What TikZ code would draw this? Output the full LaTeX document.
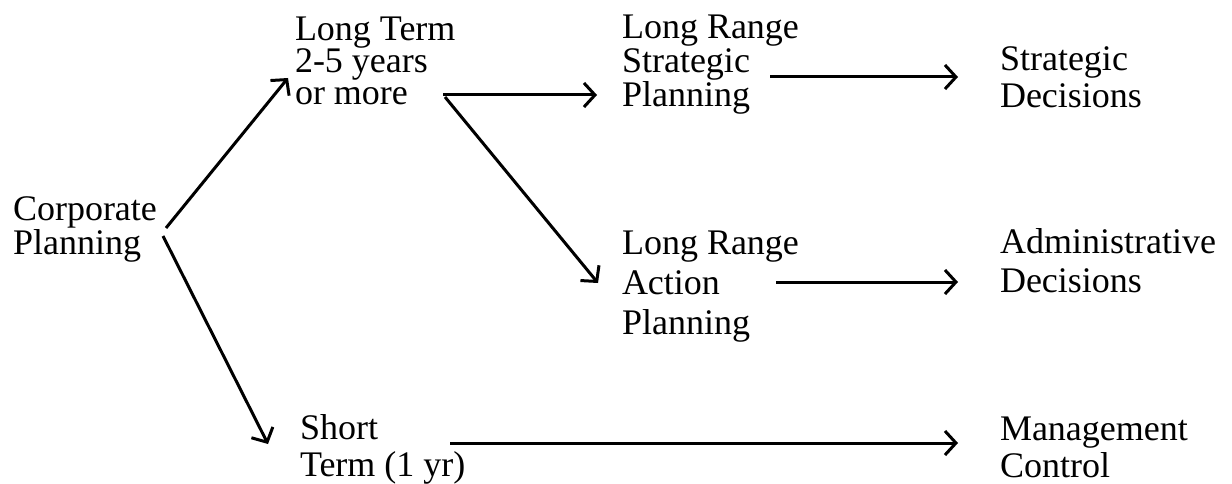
\documentclass[tikz,border=0pt]{standalone}
\usepackage{fontspec}
\setmainfont{Liberation Serif}
\usetikzlibrary{arrows.meta}
\tikzset{
  lbl/.style={inner sep=0pt, outer sep=0pt, align=left, anchor=base west},
  ls/.style={font=\fontsize{36}{#1}\selectfont},
  conn/.style={line width=3pt, -{Straight Barb[length=11pt,width=24pt,line width=3pt]}}
}
\begin{document}
\begin{tikzpicture}[x=1pt,y=-1pt]
\useasboundingbox (0,0) rectangle (1232,484);
% text blocks (positions give the baseline of the last line)
\node[lbl, ls=34] (corp) at (13,254) {Corporate\\Planning};
\node[lbl, ls=32] (lt) at (295,105) {Long Term\\2-5 years\\or more};
\node[lbl, ls=34] (lrs) at (622,107) {Long Range\\Strategic\\Planning};
\node[lbl, ls=37] (sd) at (1000,108) {Strategic\\Decisions};
\node[lbl, ls=40] (lra) at (622,334) {Long Range\\Action\\Planning};
\node[lbl, ls=39] (ad) at (1000,292) {Administrative\\Decisions};
\node[lbl, ls=37] (st) at (300,476) {Short\\Term (1 yr)};
\node[lbl, ls=37] (mc) at (1000,477) {Management\\Control};
% connector anchor points
\coordinate (c1) at (166,228);
\coordinate (c2) at (163,236);
\coordinate (t1) at (288,78);
\coordinate (t2) at (268,444);
\coordinate (l1) at (443,95);
\coordinate (l2) at (445,97);
\coordinate (t3) at (597,95);
\coordinate (t4) at (598,283);
\coordinate (s1) at (770,77);
\coordinate (s2) at (958,77);
\coordinate (a1) at (776,282);
\coordinate (a2) at (958,282);
\coordinate (m1) at (450,443);
\coordinate (m2) at (958,443);
% connectors
\draw[conn] (c1) -- (t1);
\draw[conn] (c2) -- (t2);
\draw[conn] (l1) -- (t3);
\draw[conn] (l2) -- (t4);
\draw[conn] (s1) -- (s2);
\draw[conn] (a1) -- (a2);
\draw[conn] (m1) -- (m2);
\end{tikzpicture}
\end{document}
